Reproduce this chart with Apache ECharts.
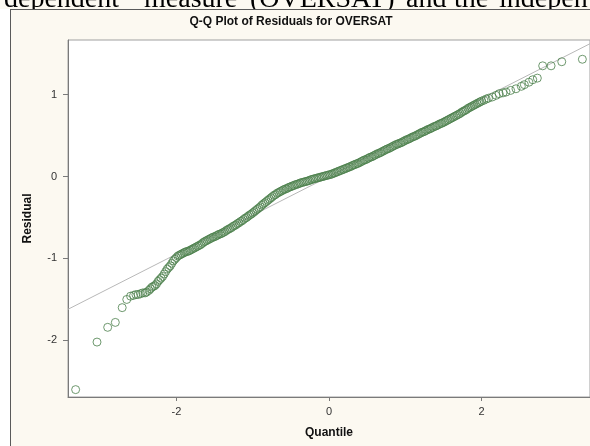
<!DOCTYPE html>
<html><head><meta charset="utf-8">
<script src="https://cdn.jsdelivr.net/npm/echarts@6/dist/echarts.min.js"></script>
<style>html,body{margin:0;padding:0;background:#fff}#c{width:590px;height:446px}</style>
</head><body><div id="c"></div><script>
// Normal quantiles (x) and sorted residuals (y)
const quantiles = [
-3.32,-3.04,-2.90,-2.80,-2.71,-2.65,-2.60,-2.56,-2.53,-2.50,-2.47,-2.44,-2.41,-2.39,-2.36,-2.34,-2.32,-2.30,-2.28,-2.26,
-2.24,-2.22,-2.20,-2.18,-2.16,-2.14,-2.12,-2.10,-2.08,-2.06,-2.04,-2.02,-2.00,-1.98,
-1.96,-1.94,-1.92,-1.90,-1.88,-1.86,-1.84,-1.82,-1.80,-1.78,-1.76,-1.74,-1.72,-1.70,-1.68,-1.66,-1.64,-1.62,-1.60,-1.58,
-1.56,-1.54,-1.52,-1.50,-1.48,
-1.46,-1.44,-1.42,-1.40,-1.38,-1.36,-1.34,-1.32,-1.30,-1.28,-1.26,-1.24,-1.22,-1.20,-1.18,-1.16,-1.14,-1.12,-1.10,-1.08,
-1.06,-1.04,-1.02,-1.00,-0.98,-0.96,
-0.94,-0.92,-0.90,-0.88,-0.86,-0.84,-0.82,-0.80,-0.78,-0.76,-0.74,-0.72,-0.70,
-0.68,-0.66,-0.64,-0.62,-0.60,-0.58,-0.56,-0.54,-0.52,-0.50,-0.48,-0.46,-0.44,-0.42,-0.40,-0.38,-0.36,
-0.34,-0.32,-0.30,-0.28,-0.26,-0.24,-0.22,-0.20,-0.18,-0.16,-0.14,-0.12,-0.10,-0.08,-0.06,-0.04,-0.02,0.00,
0.02,0.04,0.06,0.08,0.10,0.12,0.14,0.16,0.18,0.20,0.22,0.24,0.26,0.28,0.30,0.32,0.34,0.36,0.38,0.40,0.42,0.44,0.46,0.48,0.50,
0.52,0.54,0.56,0.58,0.60,0.62,0.64,0.66,0.68,0.70,0.72,0.74,0.76,0.78,0.80,0.82,0.84,0.86,0.88,0.90,0.92,0.94,0.96,0.98,1.00,
1.02,1.04,1.06,1.08,1.10,1.12,1.14,1.16,1.18,1.20,1.22,1.24,1.26,1.28,1.30,1.32,1.34,1.36,1.38,1.40,1.42,1.44,1.46,1.48,1.50,
1.52,1.54,1.56,1.58,1.60,1.62,1.64,1.66,1.68,1.70,1.72,1.74,1.76,1.78,1.80,1.82,1.84,1.86,1.88,1.90,1.92,1.94,1.96,1.98,2.00,
2.03,2.06,2.09,
2.14,2.19,2.23,2.28,2.32,2.38,2.45,2.52,2.56,2.62,2.67,2.73,2.80,2.91,3.05,3.32
];
const residuals = [
-2.60,-2.02,-1.84,-1.78,-1.60,-1.50,-1.46,-1.45,-1.44,-1.44,-1.43,-1.42,-1.42,-1.41,-1.39,-1.37,-1.35,-1.34,-1.33,-1.31,
-1.28,-1.26,-1.24,-1.22,-1.19,-1.16,-1.13,-1.11,-1.09,-1.06,-1.03,-1.01,-0.99,-0.97,
-0.96,-0.95,-0.94,-0.93,-0.92,-0.915,-0.91,-0.90,-0.89,-0.88,-0.87,-0.86,-0.85,-0.84,-0.83,-0.815,-0.80,-0.79,-0.78,-0.77,
-0.76,-0.75,-0.74,-0.735,-0.725,
-0.715,-0.705,-0.70,-0.69,-0.68,-0.67,-0.655,-0.645,-0.635,-0.625,-0.61,-0.60,-0.59,-0.575,-0.565,-0.55,-0.54,-0.525,-0.51,-0.50,
-0.485,-0.47,-0.46,-0.445,-0.43,-0.415,
-0.40,-0.385,-0.37,-0.35,-0.335,-0.32,-0.305,-0.29,-0.275,-0.26,-0.245,-0.23,-0.22,
-0.205,-0.195,-0.185,-0.175,-0.165,-0.155,-0.15,-0.14,-0.13,-0.125,-0.115,-0.11,-0.10,-0.095,-0.09,-0.08,-0.075,
-0.07,-0.065,-0.06,-0.055,-0.05,-0.04,-0.035,-0.03,-0.025,-0.02,-0.015,-0.01,-0.005,0.0,0.005,0.01,0.015,0.02,
0.025,0.03,0.04,0.045,0.055,0.06,0.07,0.075,0.085,0.09,0.10,0.105,0.115,0.12,0.13,0.14,0.145,0.155,0.16,0.17,0.18,0.19,0.20,0.205,0.215,
0.225,0.235,0.24,0.25,0.26,0.27,0.28,0.285,0.295,0.305,0.315,0.325,0.335,0.34,0.35,0.36,0.37,0.38,0.39,0.395,0.405,0.41,0.42,0.43,0.44,
0.45,0.455,0.465,0.475,0.485,0.49,0.50,0.51,0.52,0.53,0.54,0.545,0.555,0.565,0.575,0.58,0.59,0.60,0.61,0.615,0.625,0.635,0.645,0.65,0.66,
0.67,0.68,0.69,0.70,0.71,0.72,0.73,0.74,0.75,0.76,0.77,0.785,0.795,0.805,0.815,0.83,0.84,0.85,0.86,0.87,0.88,0.89,0.90,0.91,0.92,
0.93,0.945,0.955,
0.97,0.99,1.01,1.02,1.03,1.05,1.07,1.10,1.12,1.15,1.18,1.20,1.35,1.35,1.40,1.43
];
const refLineX = [-3.42, 3.42];
const refLineY = [-1.62, 1.62];
const xTicks = [-2, 0, 2];
const yTicks = [-2, -1, 0, 1];
const chartTitle = 'Q-Q Plot of Residuals for OVERSAT';
const xName = 'Quantile';
const yName = 'Residual';
const headWords = ['dependent', 'measure', '(OVERSAT)', 'and', 'the', 'indepen'];
const headWordX = [4, 144, 250, 406, 454, 499];

const pts = quantiles.map((q, i) => [q, residuals[i]]);
const linePts = refLineX.map((x, i) => [x, refLineY[i]]);

const headGraphics = headWords.map((w, i) => ({
  type: 'text', x: headWordX[i], y: -14, z: 9,
  style: {text: w, font: '28px "Liberation Serif", "Times New Roman", serif', fill: '#000'}
}));

const chart = echarts.init(document.getElementById('c'), null, {renderer: 'canvas'});
const lblFont = {color: '#333', fontSize: 11, fontFamily: 'Liberation Sans, Arial, sans-serif'};
chart.setOption({
  animation: false,
  backgroundColor: '#fcf9f1',
  grid: {left: 68, top: 40, width: 523, bottom: 49, show: true, backgroundColor: '#fff', borderColor: '#a0a0a0', borderWidth: 1},
  xAxis: {
    type: 'value', min: -3.42, max: 3.42,
    name: xName, nameLocation: 'middle', nameGap: 30,
    nameTextStyle: {fontWeight: 'bold', fontSize: 12, color: '#111', fontFamily: 'Liberation Sans, Arial, sans-serif'},
    axisLine: {show: true, onZero: false, lineStyle: {color: '#7a7a7a'}},
    axisTick: {show: true, length: 4, customValues: xTicks, lineStyle: {color: '#7a7a7a'}},
    axisLabel: Object.assign({customValues: xTicks, margin: 9}, lblFont),
    splitLine: {show: false}
  },
  yAxis: {
    type: 'value', min: -2.69, max: 1.665,
    name: yName, nameLocation: 'middle', nameGap: 34, nameRotate: 90,
    nameTextStyle: {fontWeight: 'bold', fontSize: 12, color: '#111', fontFamily: 'Liberation Sans, Arial, sans-serif'},
    axisLine: {show: true, onZero: false, lineStyle: {color: '#7a7a7a'}},
    axisTick: {show: true, length: 5, customValues: yTicks, lineStyle: {color: '#7a7a7a'}},
    axisLabel: Object.assign({customValues: yTicks, margin: 11}, lblFont),
    splitLine: {show: false}
  },
  series: [
    {type: 'line', data: linePts, showSymbol: false, silent: true, z: 1,
     lineStyle: {color: '#b8b8b8', width: 1}},
    {type: 'scatter', data: pts, symbol: 'circle', symbolSize: 8, z: 2,
     itemStyle: {color: 'rgba(0,0,0,0)', borderColor: '#4b7f4b', borderWidth: 1}}
  ],
  graphic: headGraphics.concat([
    {type: 'rect', shape: {x: 11, y: 9, width: 590, height: 22}, style: {fill: '#fcf9f1'}, z: 10},
    {type: 'rect', shape: {x: 0, y: 9, width: 10, height: 446}, style: {fill: '#fff'}, z: 10},
    {type: 'line', shape: {x1: 10, y1: 9.5, x2: 590, y2: 9.5}, style: {stroke: '#5a5a5a', lineWidth: 1}, z: 12},
    {type: 'line', shape: {x1: 10.5, y1: 9, x2: 10.5, y2: 446}, style: {stroke: '#5a5a5a', lineWidth: 1}, z: 12},
    {type: 'text', x: 291, y: 22, style: {text: chartTitle, font: 'bold 12px "Liberation Sans", Arial, sans-serif', fill: '#111', textAlign: 'center', textVerticalAlign: 'middle'}, z: 12}
  ])
});
</script></body></html>
